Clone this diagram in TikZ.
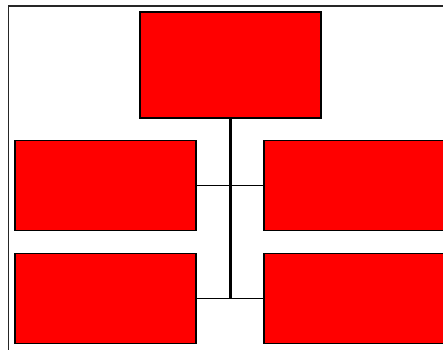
\documentclass[tikz,border=0pt]{standalone}
\begin{document}
\begin{tikzpicture}[x=1pt,y=1pt,
  box/.style={draw=black, fill=red, line width=1.2pt, inner sep=0pt, minimum width=181pt},
  conn/.style={draw=black, line width=1.4pt},
  trunk/.style={draw=black, line width=2.4pt},
  frame/.style={draw=black!85, line width=1.8pt}]
\useasboundingbox (0,0) rectangle (443,-349);
\clip (0,0) rectangle (443,-349);
\draw[frame] (8.5,-349.5) -- (8.5,-6) -- (444,-6);
\node[box, minimum height=106pt] (top) at (230.5,-65) {};
\node[box, minimum height=90pt] (l1) at (105.5,-185.5) {};
\node[box, minimum height=90pt] (l2) at (105.5,-298.5) {};
\node[box, minimum height=90pt] (r1) at (354.5,-185.5) {};
\node[box, minimum height=90pt] (r2) at (354.5,-298.5) {};
\draw[conn] (l1.east) -- (r1.west);
\draw[conn] (l2.east) -- (r2.west);
\draw[trunk] (top.south) -- (top.south |- l2.east);
\end{tikzpicture}
\end{document}
